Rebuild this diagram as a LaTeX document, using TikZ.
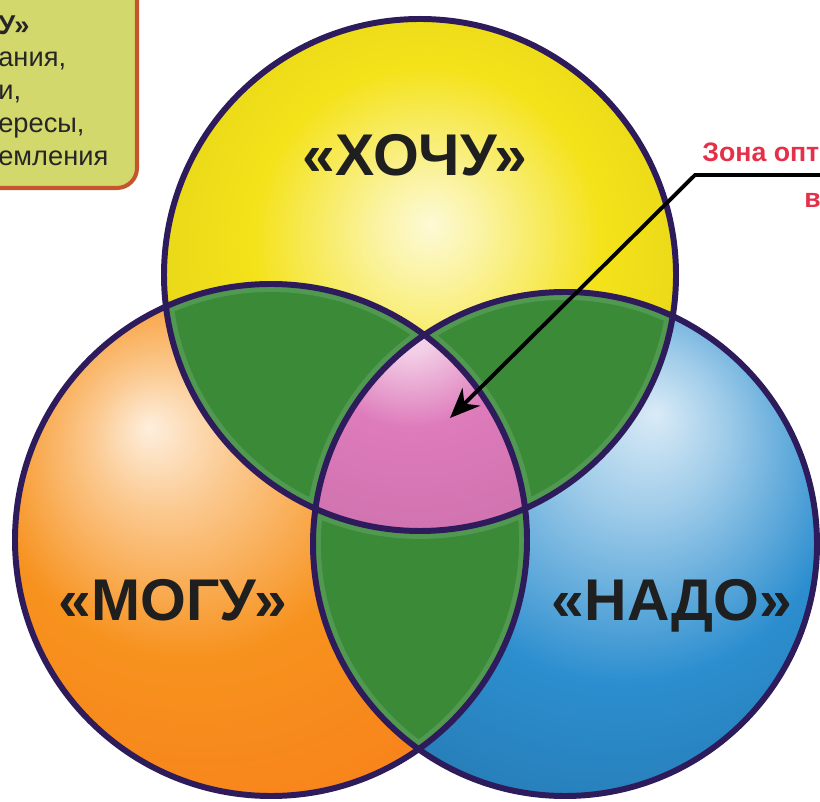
\documentclass[tikz,border=0pt]{standalone}
\usepackage{fontspec}
\setmainfont{Liberation Sans}
\usetikzlibrary{arrows.meta}

\definecolor{ringline}{HTML}{2E1B5C}
\definecolor{wantyellow}{HTML}{F4E21A}
\definecolor{canorange}{HTML}{F7921E}
\definecolor{mustblue}{HTML}{2C8ECF}
\definecolor{lensgreen}{HTML}{3A8A38}
\definecolor{bestpink}{HTML}{DE7BBB}
\definecolor{boxfill}{HTML}{D3D86C}
\definecolor{boxline}{HTML}{C4552E}
\definecolor{zonered}{HTML}{E5304A}

\pgfdeclareradialshading{wantshade}{\pgfpoint{1bp}{5bp}}{color(0bp)=(white!82!wantyellow); color(5bp)=(white!60!wantyellow); color(17bp)=(wantyellow); color(30bp)=(wantyellow!94!black); color(50bp)=(wantyellow!94!black)}
\pgfdeclareradialshading{canshade}{\pgfpoint{-12bp}{11bp}}{color(0bp)=(white!85!canorange); color(7bp)=(white!50!canorange); color(19bp)=(canorange); color(36bp)=(canorange!88!red); color(60bp)=(canorange!88!red)}
\pgfdeclareradialshading{mustshade}{\pgfpoint{9bp}{13bp}}{color(0bp)=(white!82!mustblue); color(8bp)=(white!55!mustblue); color(22bp)=(mustblue); color(42bp)=(mustblue!80!black); color(60bp)=(mustblue!80!black)}
\pgfdeclareradialshading{bestshade}{\pgfpoint{-1bp}{-5bp}}{color(0bp)=(white!72!bestpink); color(3bp)=(white!62!bestpink); color(11bp)=(bestpink); color(30bp)=(bestpink!90!black); color(50bp)=(bestpink!90!black)}

\def\wantring{(want) circle[radius=256]}
\def\canring{(can) circle[radius=256]}
\def\mustring{(must) circle[radius=252]}

\begin{document}
\begin{tikzpicture}[
    x=0.2mm, y=0.2mm,
    ring/.style={draw=ringline, line width=3.4pt},
    lens/.style={fill=lensgreen},
    lensrim/.style={draw=lensgreen!60!white, line width=9pt, opacity=0.3},
    bigword/.style={font=\fontsize{33.5}{38}\selectfont\bfseries, text=black!88, inner sep=0pt, anchor=base},
    zone/.style={font=\fontsize{15.2}{17}\selectfont\bfseries, text=zonered, inner sep=0pt, anchor=base west},
    pointer/.style={draw=black, line width=2.2pt, -{Stealth[length=6mm, width=5mm]}},
    wantbox/.style={draw=boxline, fill=boxfill, line width=2.3pt, rounded corners=4mm}
]
\useasboundingbox (0,0) rectangle (820,801);
\clip (0,0) rectangle (820,801);

\coordinate (want) at (420,526);
\coordinate (can) at (271,261);
\coordinate (must) at (565,257);

\shade[shading=wantshade] \wantring;
\shade[shading=canshade] \canring;
\shade[shading=mustshade] \mustring;

\begin{scope}
  \clip \wantring; \clip \canring;
  \fill[lens] \canring;
  \draw[lensrim] \wantring \canring \mustring;
\end{scope}
\begin{scope}
  \clip \wantring; \clip \mustring;
  \fill[lens] \mustring;
  \draw[lensrim] \wantring \canring \mustring;
\end{scope}
\begin{scope}
  \clip \canring; \clip \mustring;
  \fill[lens] \mustring;
  \draw[lensrim] \wantring \canring \mustring;
\end{scope}
\begin{scope}
  \clip \canring; \clip \mustring;
  \shade[shading=bestshade] \wantring;
\end{scope}

\draw[ring] \wantring \canring \mustring;

\node[bigword] (wantword) at (415,625) {«ХОЧУ»};
\node[bigword] (canword) at (173,180) {«МОГУ»};
\node[bigword] (mustword) at (672,180) {«НАДО»};

\coordinate (labelend) at (820,626);
\coordinate (bend) at (695,626);
\coordinate (tip) at (450,383);
\draw[pointer] (labelend) -- (bend) -- (tip);

\node[zone] (zonetext) at (702,639) {Зона опт};
\node[zone] (zonetext2) at (804,593) {в};

\draw[wantbox] (-40,613) rectangle (137,840);
\node[anchor=north west, inner sep=0pt, align=left, text=black!85,
      font=\fontsize{15.5}{18.7}\selectfont] (wanttext) at (-2,786)
  {\textbf{У»}\\ания,\\и,\\ересы,\\емления};
\end{tikzpicture}
\end{document}
